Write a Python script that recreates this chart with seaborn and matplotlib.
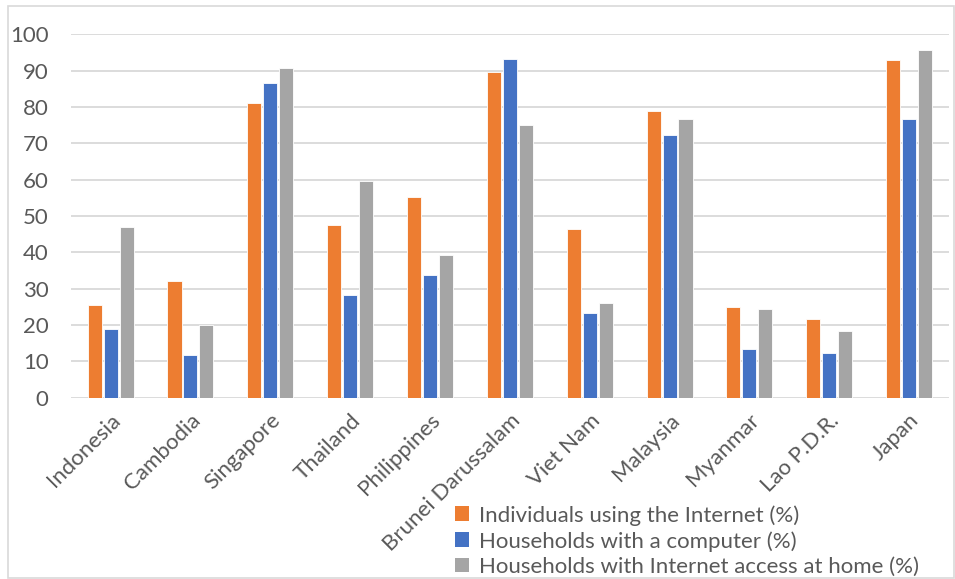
import matplotlib
matplotlib.use("Agg")
import numpy as np
import pandas as pd
import seaborn as sns
import matplotlib.pyplot as plt
from matplotlib.patches import Rectangle, Patch

countries = ["Indonesia", "Cambodia", "Singapore", "Thailand", "Philippines",
             "Brunei Darussalam", "Viet Nam", "Malaysia", "Myanmar", "Lao P.D.R.", "Japan"]
individuals_internet = [25.5, 32.1, 81.0, 47.4, 55.1, 89.7, 46.4, 78.8, 25.0, 21.7, 93.0]
households_computer = [18.9, 11.7, 86.5, 28.3, 33.8, 93.1, 23.3, 72.2, 13.4, 12.4, 76.6]
households_internet_home = [47.0, 20.1, 90.8, 59.5, 39.3, 75.0, 26.1, 76.6, 24.4, 18.3, 95.8]
series_names = ["Individuals using the Internet (%)",
                "Households with a computer (%)",
                "Households with Internet access at home (%)"]
series_colors = ["#ED7D31", "#4472C4", "#A5A5A5"]
y_ticks = list(range(0, 101, 10))

df = pd.DataFrame({
    "country": countries * 3,
    "series": [series_names[0]] * len(countries) + [series_names[1]] * len(countries)
              + [series_names[2]] * len(countries),
    "value": individuals_internet + households_computer + households_internet_home,
})

sns.set_theme(style="white")
plt.rcParams["font.family"] = ["Lato", "DejaVu Sans"]
text_color = "#595959"

fig = plt.figure(figsize=(9.55, 5.79), dpi=100)
ax = fig.add_axes([70.7 / 955, 1 - 397.7 / 579, (949 - 70.7) / 955, (397.7 - 34.3) / 579])

sns.barplot(data=df, x="country", y="value", hue="series", order=countries,
            hue_order=series_names, palette=series_colors, width=0.6, gap=0.12,
            saturation=1, edgecolor="white", linewidth=0.6, ax=ax, legend=False)

ax.set_ylim(0, 100)
ax.set_xlim(-0.5, len(countries) - 0.5)
ax.set_yticks(y_ticks)
ax.set_yticklabels([str(t) for t in y_ticks], fontsize=16, color=text_color)
ax.tick_params(axis="y", length=0, pad=16)
ax.tick_params(axis="x", length=0, pad=9)
ax.set_xticks(range(len(countries)))
ax.set_xticklabels(countries, rotation=45, ha="right", rotation_mode="anchor",
                   fontsize=16, color=text_color)
ax.set_xlabel("")
ax.set_ylabel("")
ax.grid(axis="y", color="#D9D9D9", linewidth=1.3)
ax.set_axisbelow(True)
for s in ax.spines.values():
    s.set_visible(False)

handles = [Patch(facecolor=c, edgecolor="none") for c in series_colors]
fig.legend(handles, series_names, loc="upper left",
           bbox_to_anchor=(455 / 955, 1 - 505 / 579), frameon=False,
           fontsize=16, handlelength=0.65, handleheight=0.65, handletextpad=0.45,
           labelspacing=0.24, borderpad=0, borderaxespad=0, labelcolor=text_color)

fig.patches.append(Rectangle((8 / 955, 1 / 579), 946 / 955, 572 / 579,
                             transform=fig.transFigure, fill=False,
                             edgecolor="#D9D9D9", linewidth=1.2))

fig.savefig("out.png", dpi=100, facecolor="white")
